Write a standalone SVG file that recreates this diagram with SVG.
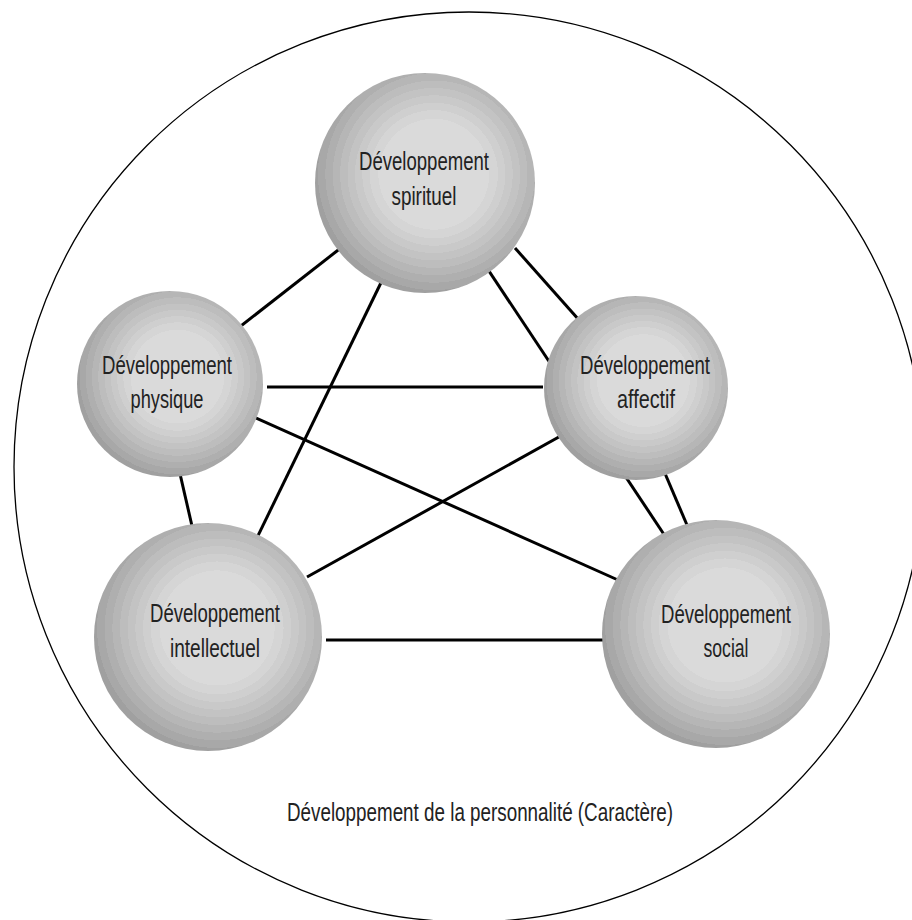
<svg xmlns="http://www.w3.org/2000/svg" width="912" height="920" viewBox="0 0 912 920">
<style>
  .lbl { font-family: "Liberation Sans", "DejaVu Sans Condensed", sans-serif; font-size: 26px; fill: #222; text-anchor: middle; }
  .conn line { stroke: #000; stroke-width: 3; stroke-linecap: butt; }
  .sphere { fill: url(#band); }
</style>
<defs>
  <radialGradient id="band" cx="0.54" cy="0.46" r="0.56">
    <stop offset="0" stop-color="#dadada"/>
    <stop offset="0.45" stop-color="#dadada"/>
    <stop offset="0.45" stop-color="#d5d5d5"/>
    <stop offset="0.52" stop-color="#d5d5d5"/>
    <stop offset="0.52" stop-color="#cfcfcf"/>
    <stop offset="0.58" stop-color="#cfcfcf"/>
    <stop offset="0.58" stop-color="#c9c9c9"/>
    <stop offset="0.64" stop-color="#c9c9c9"/>
    <stop offset="0.64" stop-color="#c3c3c3"/>
    <stop offset="0.70" stop-color="#c3c3c3"/>
    <stop offset="0.70" stop-color="#bdbdbd"/>
    <stop offset="0.76" stop-color="#bdbdbd"/>
    <stop offset="0.76" stop-color="#b6b6b6"/>
    <stop offset="0.82" stop-color="#b6b6b6"/>
    <stop offset="0.82" stop-color="#afafaf"/>
    <stop offset="0.88" stop-color="#afafaf"/>
    <stop offset="0.88" stop-color="#a8a8a8"/>
    <stop offset="0.94" stop-color="#a8a8a8"/>
    <stop offset="0.94" stop-color="#a0a0a0"/>
    <stop offset="1" stop-color="#a0a0a0"/>
  </radialGradient>
</defs>
<rect width="912" height="920" fill="#fff"/>
<g id="personnalite">
  <circle cx="469" cy="467" r="455" fill="none" stroke="#000" stroke-width="1.3"/>
  <text class="lbl" x="480" y="821" textLength="386" lengthAdjust="spacingAndGlyphs">Développement de la personnalité (Caractère)</text>
</g>
<g id="connectors" class="conn">
  <line x1="223" y1="340" x2="342" y2="247"/>
  <line x1="393" y1="258" x2="252" y2="548"/>
  <line x1="515" y1="248" x2="595" y2="338"/>
  <line x1="477" y1="253" x2="673" y2="548"/>
  <line x1="658" y1="457" x2="687" y2="525"/>
  <line x1="267" y1="387" x2="543" y2="387"/>
  <line x1="247" y1="414" x2="618" y2="580"/>
  <line x1="307" y1="577" x2="575" y2="428"/>
  <line x1="175" y1="452" x2="192" y2="526"/>
  <line x1="326" y1="640" x2="605" y2="640"/>
</g>
<g id="spirituel">
  <circle class="sphere" cx="425" cy="183" r="110"/>
  <text class="lbl" x="424" y="170" textLength="130" lengthAdjust="spacingAndGlyphs">Développement</text>
  <text class="lbl" x="424" y="205" textLength="65" lengthAdjust="spacingAndGlyphs">spirituel</text>
</g>
<g id="physique">
  <circle class="sphere" cx="170" cy="384" r="93"/>
  <text class="lbl" x="167" y="374" textLength="130" lengthAdjust="spacingAndGlyphs">Développement</text>
  <text class="lbl" x="167" y="408" textLength="73" lengthAdjust="spacingAndGlyphs">physique</text>
</g>
<g id="affectif">
  <circle class="sphere" cx="636" cy="388" r="92"/>
  <text class="lbl" x="645" y="374" textLength="130" lengthAdjust="spacingAndGlyphs">Développement</text>
  <text class="lbl" x="646" y="408" textLength="58" lengthAdjust="spacingAndGlyphs">affectif</text>
</g>
<g id="intellectuel">
  <circle class="sphere" cx="208" cy="637" r="114"/>
  <text class="lbl" x="215" y="622" textLength="130" lengthAdjust="spacingAndGlyphs">Développement</text>
  <text class="lbl" x="215" y="657" textLength="90" lengthAdjust="spacingAndGlyphs">intellectuel</text>
</g>
<g id="social">
  <circle class="sphere" cx="716" cy="634" r="114"/>
  <text class="lbl" x="726" y="623" textLength="130" lengthAdjust="spacingAndGlyphs">Développement</text>
  <text class="lbl" x="726" y="657" textLength="45" lengthAdjust="spacingAndGlyphs">social</text>
</g>
</svg>
